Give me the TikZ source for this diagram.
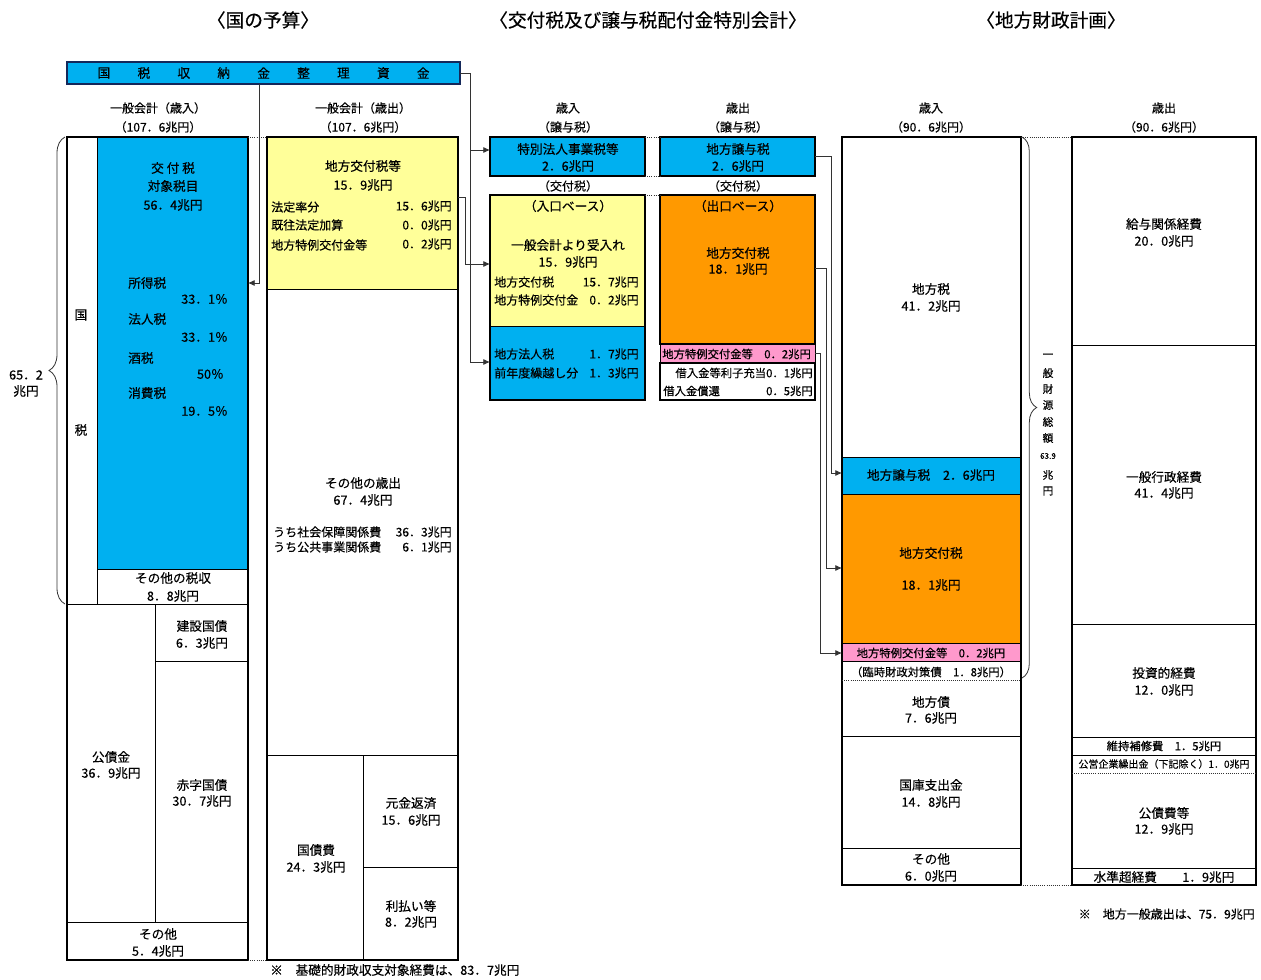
\documentclass[tikz,border=0pt]{standalone}
\usepackage{fontspec}
\setmainfont{Noto Sans CJK JP}[FakeBold=0.4]
\usetikzlibrary{arrows.meta,decorations.pathreplacing,calc}
\definecolor{cyanC}{RGB}{0,176,240}
\definecolor{yelC}{RGB}{255,255,153}
\definecolor{orgC}{RGB}{255,153,0}
\definecolor{pnkC}{RGB}{255,153,204}
\definecolor{navyC}{RGB}{20,40,90}
\newcommand{\Bx}[6][]{%
  \pgfmathsetmacro{\bxw}{(#5-#3)*0.75}%
  \pgfmathsetmacro{\bxh}{(#6-#4)*0.75}%
  \node[bx,minimum width=\bxw pt,minimum height=\bxh pt,#1] (#2) at ({(#3+#5)/2},{(#4+#6)/2}) {};%
}
\begin{document}
\begin{tikzpicture}[x=0.75pt,y=-0.75pt,
  bx/.style={rectangle,draw=black,line width=0.6pt,inner sep=0pt,outer sep=0pt},
  fr/.style={line width=1.4pt},
  hd/.style={font=\fontsize{14}{15}\selectfont,inner sep=0pt},
  lb/.style={font=\fontsize{9}{10}\selectfont,inner sep=0pt},
  tx/.style={font=\fontsize{9.5}{11}\selectfont,inner sep=0pt},
  ls/.style={font=\fontsize{9}{10}\selectfont,inner sep=0pt},
  sm/.style={font=\fontsize{8.5}{9.5}\selectfont,inner sep=0pt},
  xs/.style={font=\fontsize{7.5}{8.5}\selectfont,inner sep=0pt},
  vt/.style={font=\fontsize{8}{9}\selectfont,inner sep=0pt},
  ln/.style={line width=0.6pt,draw=black!80},
  arr/.style={ln,-{Latex[length=5pt,width=4.5pt]}},
  dl/.style={line width=0.6pt,densely dotted,draw=black!80}]
\useasboundingbox (0,0) rectangle (1261,979);
\fill[white] (0,0) rectangle (1261,979);

% headers
\node[hd] (h1) at (263,20) {〈国の予算〉};
\node[hd] (h2) at (648,20) {〈交付税及び譲与税配付金特別会計〉};
\node[hd] (h3) at (1051,20) {〈地方財政計画〉};

% national tax collection bar
\Bx[fill=cyanC,draw=navyC,line width=1.8pt]{ghz}{67}{62}{460}{84}
\foreach \c [count=\i from 0] in {国,税,収,納,金,整,理,資,金} {\node[tx] (b\i) at (104+39.9*\i,73) {\c};}

% column labels
\node[lb] (c1) at (158,108) {一般会計（歳入）};
\node[lb] (c2) at (158,127) {（107．6兆円）};
\node[lb] (c3) at (363,108) {一般会計（歳出）};
\node[lb] (c4) at (363,127) {（107．6兆円）};
\node[lb] (c5) at (568,108) {歳入};
\node[lb] (c6) at (568,127) {（譲与税）};
\node[lb] (c7) at (738,108) {歳出};
\node[lb] (c8) at (738,127) {（譲与税）};
\node[lb] (c9) at (568,186) {（交付税）};
\node[lb] (c10) at (738,186) {（交付税）};
\node[lb] (c11) at (931,108) {歳入};
\node[lb] (c12) at (931,127) {（90．6兆円）};
\node[lb] (c13) at (1164,108) {歳出};
\node[lb] (c14) at (1164,127) {（90．6兆円）};

% ---- general account revenue
\Bx{kzl}{67}{137}{97}{604}
\Bx[fill=cyanC]{kft}{97}{137}{248}{569}
\Bx{sot}{97}{569}{248}{604}
\Bx{ksk}{67}{604}{155}{922}
\Bx{kns}{155}{604}{248}{661}
\Bx{akj}{155}{661}{248}{922}
\Bx{sotb}{67}{922}{248}{960}
\Bx[fr]{revF}{67}{137}{248}{960}

\node[tx] (l1) at (173,168) {交 付 税};
\node[tx] (l2) at (173,186) {対象税目};
\node[tx] (l3) at (173,205) {56．4兆円};
\node[tx,anchor=west] (l4) at (128,283) {所得税};
\node[tx,anchor=east] (l5) at (228,299) {33．1％};
\node[tx,anchor=west] (l6) at (128,319) {法人税};
\node[tx,anchor=east] (l7) at (228,337) {33．1％};
\node[tx,anchor=west] (l8) at (128,358) {酒税};
\node[tx,anchor=east] (l9) at (224,374) {50％};
\node[tx,anchor=west] (l10) at (128,393) {消費税};
\node[tx,anchor=east] (l11) at (228,411) {19．5％};
\node[tx] (l12) at (173,578) {その他の税収};
\node[tx] (l13) at (173,596) {8．8兆円};
\node[tx] (l14) at (81,315) {国};
\node[tx] (l15) at (81,430) {税};
\node[tx] (l16) at (111,757) {公債金};
\node[tx] (l17) at (111,773) {36．9兆円};
\node[tx] (l18) at (202,626) {建設国債};
\node[tx] (l19) at (202,643) {6．3兆円};
\node[tx] (l20) at (202,785) {赤字国債};
\node[tx] (l21) at (202,801) {30．7兆円};
\node[tx] (l22) at (158,934) {その他};
\node[tx] (l23) at (158,951) {5．4兆円};
\node[tx] (l24) at (26,375) {65．2};
\node[tx] (l25) at (26,391) {兆円};
\draw[ln,decorate,decoration={brace,amplitude=12pt}] (65,604) -- (65,137);

% ---- general account expenditure
\Bx[fill=yelC]{yel}{267}{137}{458}{289}
\Bx{sos}{267}{289}{458}{755}
\Bx{ksh}{267}{755}{363}{960}
\Bx{gkn}{363}{755}{458}{867}
\Bx{hri}{363}{867}{458}{960}
\Bx[fr]{expF}{267}{137}{458}{960}

\node[tx] (e1) at (363,166) {地方交付税等};
\node[tx] (e2) at (363,185) {15．9兆円};
\node[ls,anchor=west] (e3) at (271,207) {法定率分};
\node[ls,anchor=east] (e4) at (452,206) {15．6兆円};
\node[ls,anchor=west] (e5) at (271,225) {既往法定加算};
\node[ls,anchor=east] (e6) at (452,225) {0．0兆円};
\node[ls,anchor=west] (e7) at (271,245) {地方特例交付金等};
\node[ls,anchor=east] (e8) at (452,244) {0．2兆円};
\node[tx] (e9) at (363,483) {その他の歳出};
\node[tx] (e10) at (363,500) {67．4兆円};
\node[ls,anchor=west] (e11) at (273,532) {うち社会保障関係費};
\node[ls,anchor=east] (e12) at (452,532) {36．3兆円};
\node[ls,anchor=west] (e13) at (273,547) {うち公共事業関係費};
\node[ls,anchor=east] (e14) at (452,547) {6．1兆円};
\node[tx] (e15) at (316,850) {国債費};
\node[tx] (e16) at (316,867) {24．3兆円};
\node[tx] (e17) at (411,803) {元金返済};
\node[tx] (e18) at (411,820) {15．6兆円};
\node[tx] (e19) at (411,906) {利払い等};
\node[tx] (e20) at (411,922) {8．2兆円};
\node[tx,anchor=west] (fn1) at (270,970) {※　基礎的財政収支対象経費は、83．7兆円};

% ---- special account
\Bx[fill=cyanC,fr]{tok}{490}{137}{645}{176}
\Bx[fill=cyanC,fr]{jy}{660}{137}{815}{176}
\Bx[fill=yelC]{iriy}{490}{195}{645}{326}
\Bx[fill=cyanC]{irib}{490}{326}{645}{400}
\Bx[fr]{iriF}{490}{195}{645}{400}
\Bx[fill=orgC,fr]{org}{660}{195}{815}{344}
\Bx[fill=pnkC]{pnk}{660}{344}{815}{363}
\Bx[line width=1pt]{wht}{660}{363}{815}{400}

\node[tx] (m1) at (568,149) {特別法人事業税等};
\node[tx] (m2) at (568,166) {2．6兆円};
\node[tx] (m3) at (738,149) {地方譲与税};
\node[tx] (m4) at (738,166) {2．6兆円};
\node[tx] (m5) at (568,206) {（入口ベース）};
\node[tx] (m6) at (568,245) {一般会計より受入れ};
\node[tx] (m7) at (568,262) {15．9兆円};
\node[ls,anchor=west] (m8) at (494,282) {地方交付税};
\node[ls,anchor=east] (m9) at (639,282) {15．7兆円};
\node[ls,anchor=west] (m10) at (494,300) {地方特例交付金};
\node[ls,anchor=east] (m11) at (639,300) {0．2兆円};
\node[ls,anchor=west] (m12) at (494,354) {地方法人税};
\node[ls,anchor=east] (m13) at (639,354) {1．7兆円};
\node[ls,anchor=west] (m14) at (494,373) {前年度繰越し分};
\node[ls,anchor=east] (m15) at (639,373) {1．3兆円};
\node[tx] (m16) at (738,206) {（出口ベース）};
\node[tx] (m17) at (738,253) {地方交付税};
\node[tx] (m18) at (738,269) {18．1兆円};
\node[sm,anchor=west] (m19) at (662,354) {地方特例交付金等　0．2兆円};
\node[sm,anchor=east] (m20) at (813,373) {借入金等利子充当0．1兆円};
\node[sm,anchor=west] (m21) at (663,391) {借入金償還};
\node[sm,anchor=east] (m22) at (813,391) {0．5兆円};

% ---- local finance plan revenue
\Bx{chz}{842}{137}{1021}{457}
\Bx[fill=cyanC]{rjy}{842}{457}{1021}{494}
\Bx[fill=orgC]{rkofu}{842}{494}{1021}{643}
\Bx[fill=pnkC]{rtok}{842}{643}{1021}{661}
\Bx{chs}{842}{661}{1021}{736}
\Bx{kko}{842}{736}{1021}{848}
\Bx{sotc}{842}{848}{1021}{885}
\Bx[fr]{rrF}{842}{137}{1021}{885}
\draw[dl] ([yshift=-14.25pt]chs.north west) -- ([yshift=-14.25pt]chs.north east);

\node[tx] (r1) at (931,289) {地方税};
\node[tx] (r2) at (931,306) {41．2兆円};
\node[tx] (r3) at (931,475) {地方譲与税　2．6兆円};
\node[tx] (r4) at (931,553) {地方交付税};
\node[tx] (r5) at (931,585) {18．1兆円};
\node[sm] (r6) at (931,653) {地方特例交付金等　0．2兆円};
\node[sm] (r7) at (931,672) {（臨時財政対策債　1．8兆円）};
\node[tx] (r8) at (931,702) {地方債};
\node[tx] (r9) at (931,718) {7．6兆円};
\node[tx] (r10) at (931,785) {国庫支出金};
\node[tx] (r11) at (931,802) {14．8兆円};
\node[tx] (r12) at (931,859) {その他};
\node[tx] (r13) at (931,876) {6．0兆円};

% ---- local finance plan expenditure
\Bx{kyu}{1072}{137}{1256}{345}
\Bx{ipp}{1072}{345}{1256}{624}
\Bx{tsh}{1072}{624}{1256}{737}
\Bx{iji}{1072}{737}{1256}{755}
\Bx{ksh2}{1072}{755}{1256}{868}
\Bx{sjn}{1072}{868}{1256}{885}
\Bx[fr]{reF}{1072}{137}{1256}{885}
\draw[dl] ([yshift=-13.5pt]ksh2.north west) -- ([yshift=-13.5pt]ksh2.north east);

\node[tx] (r14) at (1164,224) {給与関係経費};
\node[tx] (r15) at (1164,241) {20．0兆円};
\node[tx] (r16) at (1164,477) {一般行政経費};
\node[tx] (r17) at (1164,493) {41．4兆円};
\node[tx] (r18) at (1164,673) {投資的経費};
\node[tx] (r19) at (1164,690) {12．0兆円};
\node[sm] (r20) at (1164,746) {維持補修費　1．5兆円};
\node[xs] (r21) at (1164,764) {公営企業繰出金（下記除く）1．0兆円};
\node[tx] (r22) at (1164,813) {公債費等};
\node[tx] (r23) at (1164,829) {12．9兆円};
\node[tx] (r24) at (1164,877) {水準超経費　　1．9兆円};
\node[ls,anchor=east] (fn2) at (1255,914) {※　地方一般歳出は、75．9兆円};

% brace general revenue
\draw[ln,decorate,decoration={brace,amplitude=11pt}] (1022,137) -- (1022,678);
\foreach \c/\yy [count=\i] in {一/356,般/373,財/389,源/405,総/422,額/438} {\node[vt] (v\i) at (1048,\yy) {\c};}
\node[font=\fontsize{6}{7}\selectfont,inner sep=0pt] (v7) at (1048,456) {63.9};
\node[vt] (v8) at (1048,475) {兆};
\node[vt] (v9) at (1048,491) {円};

% dotted joins
\draw[dl] (revF.north east) -- (expF.north west);
\draw[dl] (revF.south east) -- (expF.south west);
\draw[dl] (tok.north east) -- (jy.north west);
\draw[dl] (tok.south east) -- (jy.south west);
\draw[dl] (iriF.north east) -- (org.north west);
\draw[dl] (rrF.north east) -- (reF.north west);
\draw[dl] (rrF.south east) -- (reF.south west);

% connectors
\coordinate (k1) at (259,84);
\coordinate (k2) at (259,283);
\draw[arr] (k1) -- (k2) -- (k2 -| kft.east);
\coordinate (k3) at (470,150);
\coordinate (k4) at (470,362);
\draw[ln] (ghz.east) -| (k4);
\draw[arr] (k3) -- (k3 -| tok.west);
\draw[arr] (k4) -- (k4 -| irib.west);
\coordinate (k5) at (465,197);
\coordinate (k6) at (465,264);
\draw[arr] (k5 -| yel.east) -- (k5) -- (k6) -- (k6 -| iriy.west);
\coordinate (k8) at (831,473);
\draw[arr] (jy.east) -| (k8) -- (k8 -| rjy.west);
\coordinate (k9) at (826,268);
\coordinate (k10) at (826,568);
\draw[arr] (k9 -| org.east) -- (k9) -- (k10) -- (k10 -| rkofu.west);
\coordinate (k11) at (820,653);
\draw[arr] (pnk.east) -| (k11) -- (k11 -| rtok.west);
\end{tikzpicture}
\end{document}
